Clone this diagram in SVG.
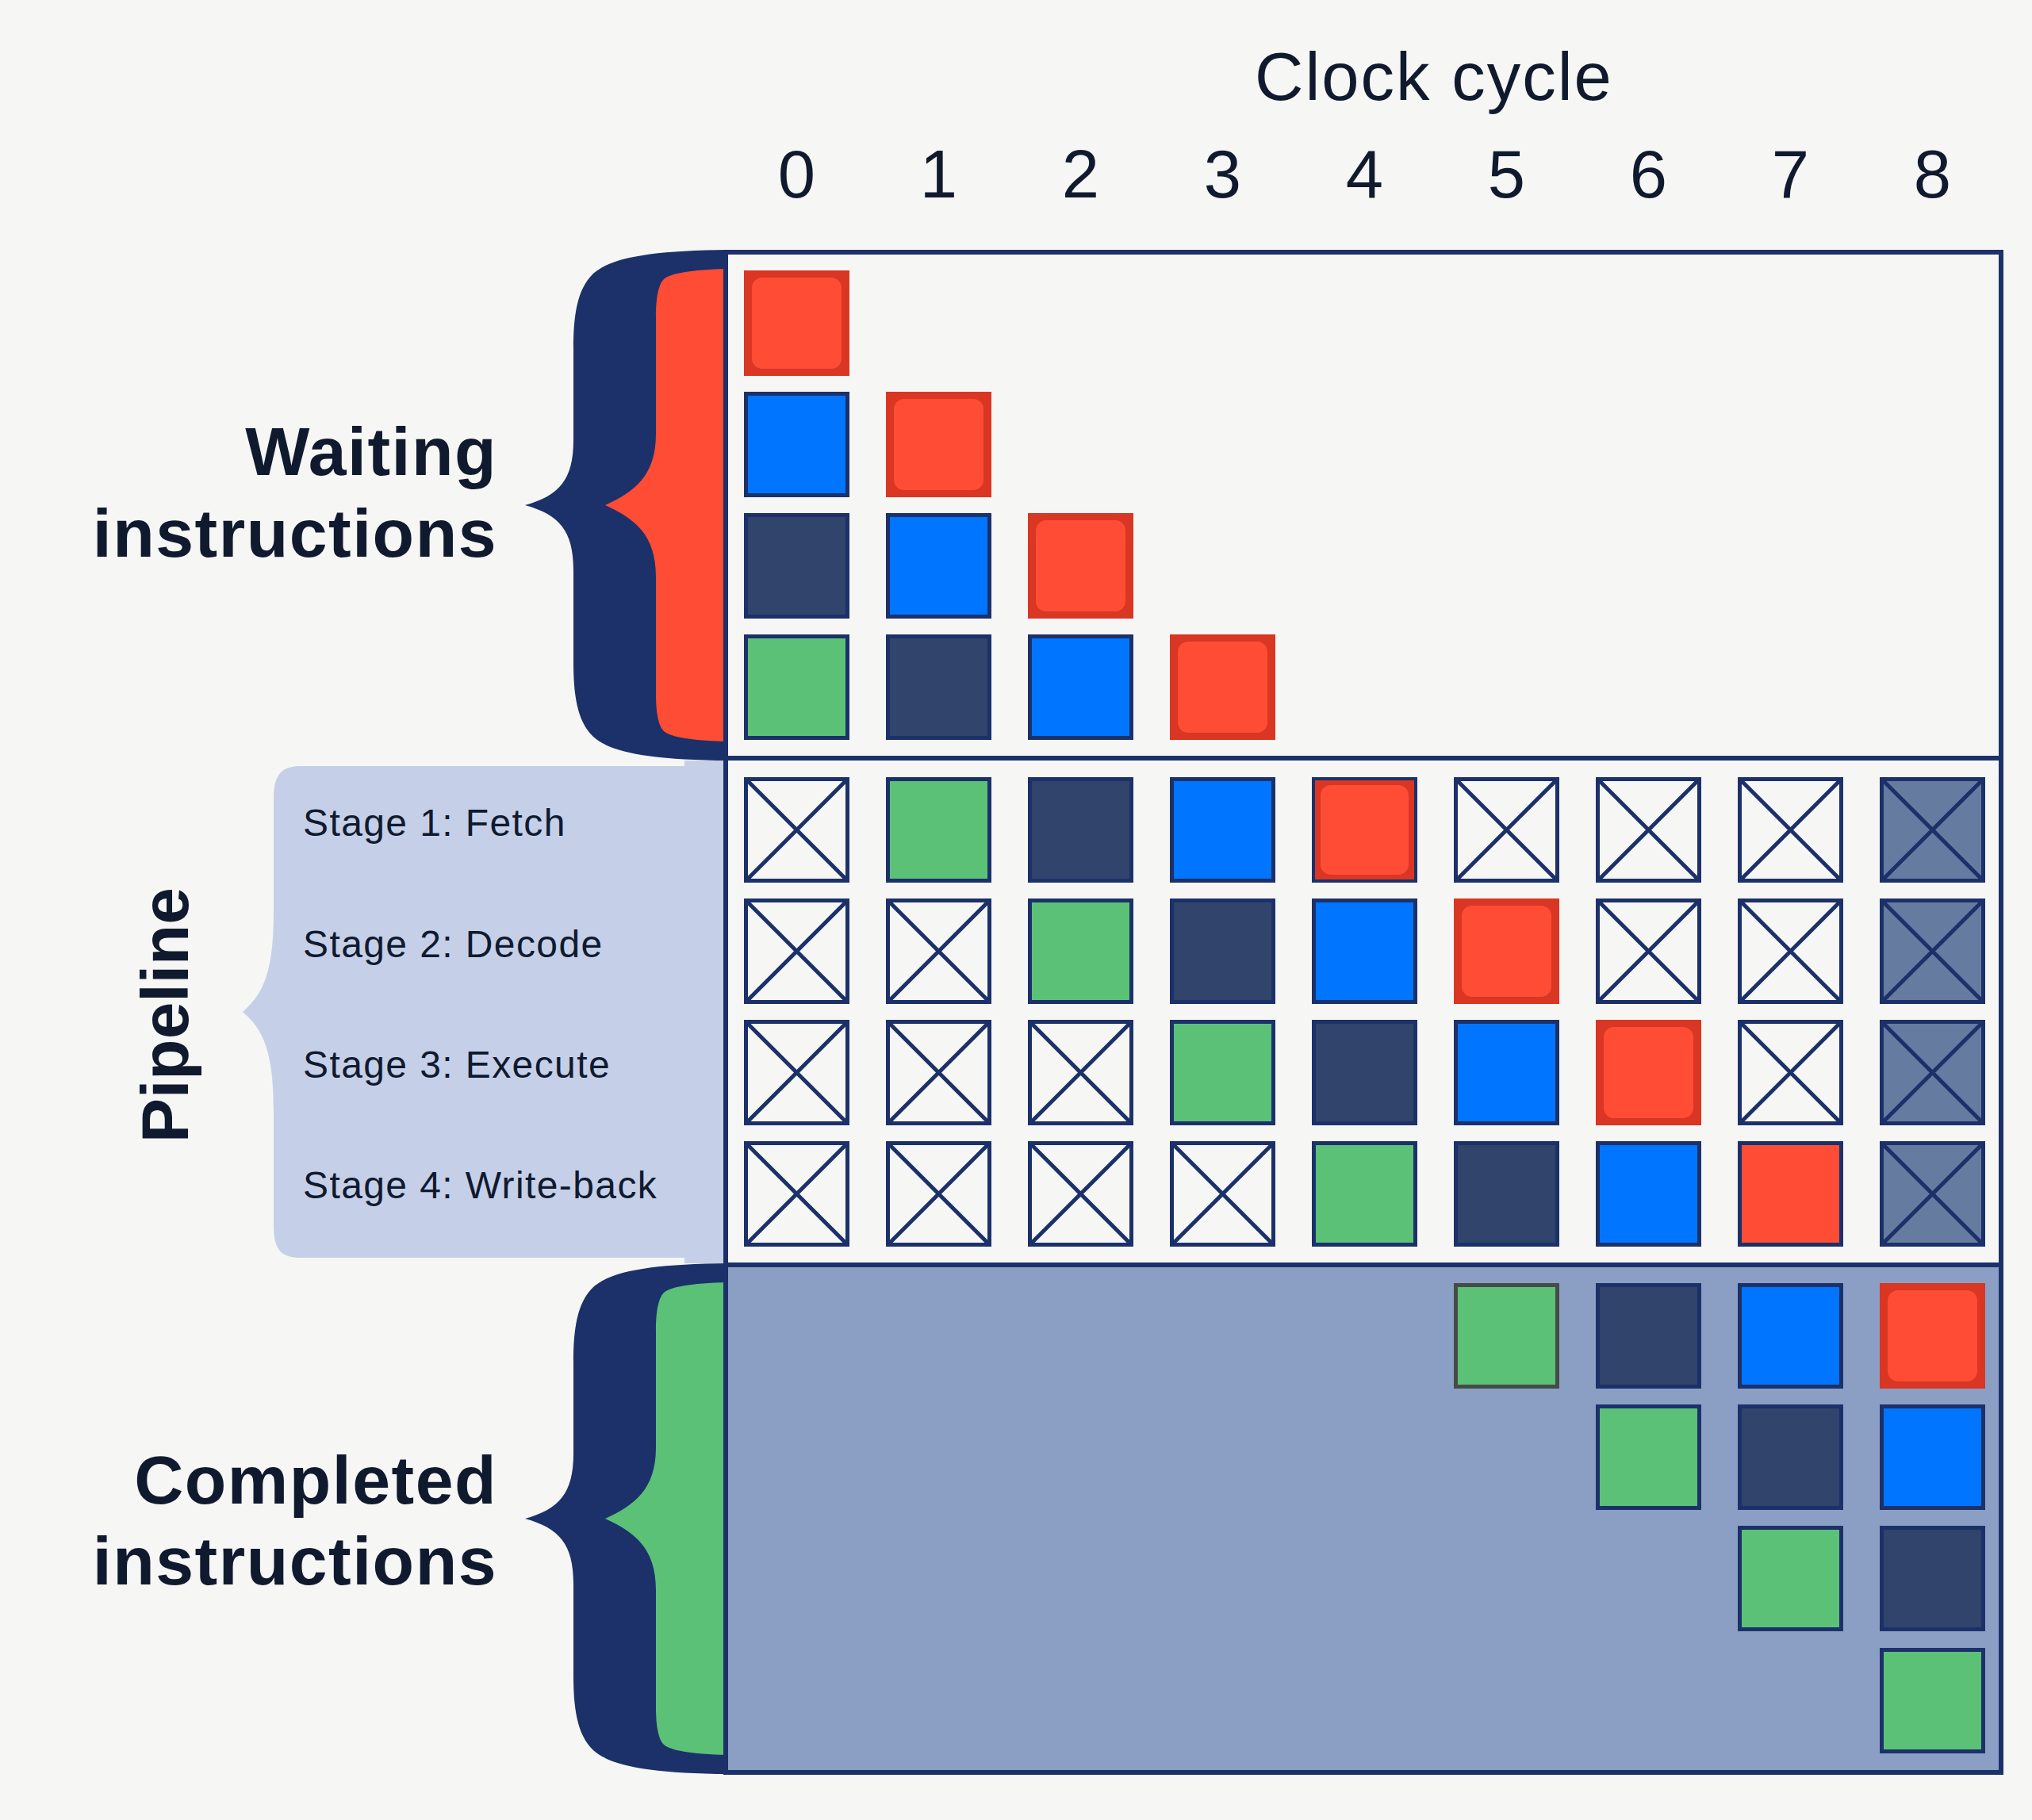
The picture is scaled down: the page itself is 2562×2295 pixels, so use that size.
<svg xmlns="http://www.w3.org/2000/svg" xmlns:xlink="http://www.w3.org/1999/xlink" width="2562" height="2295" viewBox="0 0 2562 2295">
<style>
.lbl{font-family:"Liberation Sans",Arial,sans-serif;fill:#101a2f}
.big{font-size:86px;font-weight:bold;letter-spacing:1.5px;text-anchor:end}
.num{font-size:85px;text-anchor:middle}
.stage{font-size:48px;letter-spacing:1.4px}
.nav{stroke:#1c3169;stroke-width:5}
</style>
<defs>
<g id="sq-red">
<rect x="0" y="0" width="133" height="133" fill="#d93623"/>
<rect x="10" y="9" width="113" height="115" rx="13" fill="#ff4c35"/>
</g>
<g id="sq-redn">
<rect x="2" y="2" width="129" height="129" fill="#d93623" stroke="#1c3169" stroke-width="4"/>
<rect x="11" y="10" width="111" height="113" rx="13" fill="#ff4c35"/>
</g>
<rect id="sq-redf" class="nav" x="2.5" y="2.5" width="128" height="128" fill="#ff4c35"/>
<rect id="sq-blue" class="nav" x="2.5" y="2.5" width="128" height="128" fill="#0075ff"/>
<rect id="sq-dark" class="nav" x="2.5" y="2.5" width="128" height="128" fill="#30446c"/>
<rect id="sq-green" class="nav" x="2.5" y="2.5" width="128" height="128" fill="#5bc177"/>
<g id="sq-x">
<rect class="nav" x="2.5" y="2.5" width="128" height="128" fill="#f6f6f4"/>
<path class="nav" d="M5 5 L128 128 M128 5 L5 128" fill="none"/>
</g>
<g id="sq-xg">
<rect class="nav" x="2.5" y="2.5" width="128" height="128" fill="#667ba0"/>
<path class="nav" d="M5 5 L128 128 M128 5 L5 128" fill="none"/>
</g>
<path id="brace-outer" d="M918 315 C820 316 770 325 748 345 C727 365 723 400 723 440 L723 555 C723 605 705 625 662 637 C705 649 723 669 723 719 L723 834 C723 874 727 909 748 929 C770 949 820 958 918 959 Z"/>
<path id="brace-inner" d="M918 339 C870 340 845 345 837 352 C829 360 827 380 827 400 L827 547 C827 600 800 620 763 637 C800 654 827 674 827 727 L827 874 C827 894 829 914 837 922 C845 929 870 934 918 935 Z"/>
</defs>

<rect x="0" y="0" width="2562" height="2295" fill="#f6f6f4"/>

<g id="title">
<text class="lbl" x="1808" y="126" font-size="85" text-anchor="middle" letter-spacing="2">Clock cycle</text>
</g>
<g id="cycle-numbers" class="lbl num">
<text x="1004.5" y="249">0</text>
<text x="1183.5" y="249">1</text>
<text x="1362.5" y="249">2</text>
<text x="1541.5" y="249">3</text>
<text x="1720.5" y="249">4</text>
<text x="1899.5" y="249">5</text>
<text x="2078.5" y="249">6</text>
<text x="2257.5" y="249">7</text>
<text x="2436.5" y="249">8</text>
</g>

<g id="box-fill">
<rect x="915" y="318" width="1608" height="1277" fill="#f6f6f4"/>
<rect x="915" y="1595" width="1608" height="640" fill="#8b9fc5"/>
</g>

<g id="waiting-brace">
<use href="#brace-outer" fill="#1c3169"/>
<use href="#brace-inner" fill="#ff4c35"/>
</g>
<g id="waiting-label" class="lbl big">
<text x="627" y="599">Waiting</text>
<text x="627" y="702">instructions</text>
</g>

<g id="pipeline-brace">
<path d="M380 966 L863 966 L863 959 L915 959 L915 1593 L863 1593 L863 1586 L380 1586 C355 1586 345 1577 345 1545 L345 1400 C345 1322 330 1297 306 1276 C330 1255 345 1230 345 1150 L345 1008 C345 976 355 966 380 966 Z" fill="#c5d0e8"/>
<text class="lbl" transform="translate(237,1280) rotate(-90)" font-size="84" font-weight="bold" text-anchor="middle">Pipeline</text>
<text class="lbl stage" x="382" y="1054">Stage 1: Fetch</text>
<text class="lbl stage" x="382" y="1207">Stage 2: Decode</text>
<text class="lbl stage" x="382" y="1359">Stage 3: Execute</text>
<text class="lbl stage" x="382" y="1511">Stage 4: Write-back</text>
</g>

<g id="completed-brace" transform="translate(0,1278)">
<use href="#brace-outer" fill="#1c3169"/>
<use href="#brace-inner" fill="#5bc177"/>
</g>
<g id="completed-label" class="lbl big">
<text x="627" y="1896">Completed</text>
<text x="627" y="1998">instructions</text>
</g>

<g id="waiting">
<use href="#sq-red" x="938" y="341"/>
<use href="#sq-blue" x="938" y="494"/>
<use href="#sq-red" x="1117" y="494"/>
<use href="#sq-dark" x="938" y="647"/>
<use href="#sq-blue" x="1117" y="647"/>
<use href="#sq-red" x="1296" y="647"/>
<use href="#sq-green" x="938" y="800"/>
<use href="#sq-dark" x="1117" y="800"/>
<use href="#sq-blue" x="1296" y="800"/>
<use href="#sq-red" x="1475" y="800"/>
</g>

<g id="stage1">
<use href="#sq-x" x="938" y="980"/>
<use href="#sq-green" x="1117" y="980"/>
<use href="#sq-dark" x="1296" y="980"/>
<use href="#sq-blue" x="1475" y="980"/>
<use href="#sq-redn" x="1654" y="980"/>
<use href="#sq-x" x="1833" y="980"/>
<use href="#sq-x" x="2012" y="980"/>
<use href="#sq-x" x="2191" y="980"/>
<use href="#sq-xg" x="2370" y="980"/>
</g>
<g id="stage2">
<use href="#sq-x" x="938" y="1133"/>
<use href="#sq-x" x="1117" y="1133"/>
<use href="#sq-green" x="1296" y="1133"/>
<use href="#sq-dark" x="1475" y="1133"/>
<use href="#sq-blue" x="1654" y="1133"/>
<use href="#sq-red" x="1833" y="1133"/>
<use href="#sq-x" x="2012" y="1133"/>
<use href="#sq-x" x="2191" y="1133"/>
<use href="#sq-xg" x="2370" y="1133"/>
</g>
<g id="stage3">
<use href="#sq-x" x="938" y="1286"/>
<use href="#sq-x" x="1117" y="1286"/>
<use href="#sq-x" x="1296" y="1286"/>
<use href="#sq-green" x="1475" y="1286"/>
<use href="#sq-dark" x="1654" y="1286"/>
<use href="#sq-blue" x="1833" y="1286"/>
<use href="#sq-red" x="2012" y="1286"/>
<use href="#sq-x" x="2191" y="1286"/>
<use href="#sq-xg" x="2370" y="1286"/>
</g>
<g id="stage4">
<use href="#sq-x" x="938" y="1439"/>
<use href="#sq-x" x="1117" y="1439"/>
<use href="#sq-x" x="1296" y="1439"/>
<use href="#sq-x" x="1475" y="1439"/>
<use href="#sq-green" x="1654" y="1439"/>
<use href="#sq-dark" x="1833" y="1439"/>
<use href="#sq-blue" x="2012" y="1439"/>
<use href="#sq-redf" x="2191" y="1439"/>
<use href="#sq-xg" x="2370" y="1439"/>
</g>

<g id="completed">
<rect x="1835.5" y="1620.5" width="128" height="128" fill="#5bc177" stroke="#454b47" stroke-width="5"/>
<use href="#sq-dark" x="2012" y="1618"/>
<use href="#sq-blue" x="2191" y="1618"/>
<use href="#sq-red" x="2370" y="1618"/>
<use href="#sq-green" x="2012" y="1771"/>
<use href="#sq-dark" x="2191" y="1771"/>
<use href="#sq-blue" x="2370" y="1771"/>
<use href="#sq-green" x="2191" y="1924"/>
<use href="#sq-dark" x="2370" y="1924"/>
<use href="#sq-green" x="2370" y="2078"/>
</g>

<g id="frame" fill="none" stroke="#1c3169" stroke-width="6">
<rect x="915" y="318" width="1608" height="1917"/>
<line x1="915" y1="956" x2="2523" y2="956"/>
<line x1="915" y1="1595" x2="2523" y2="1595"/>
</g>
</svg>
